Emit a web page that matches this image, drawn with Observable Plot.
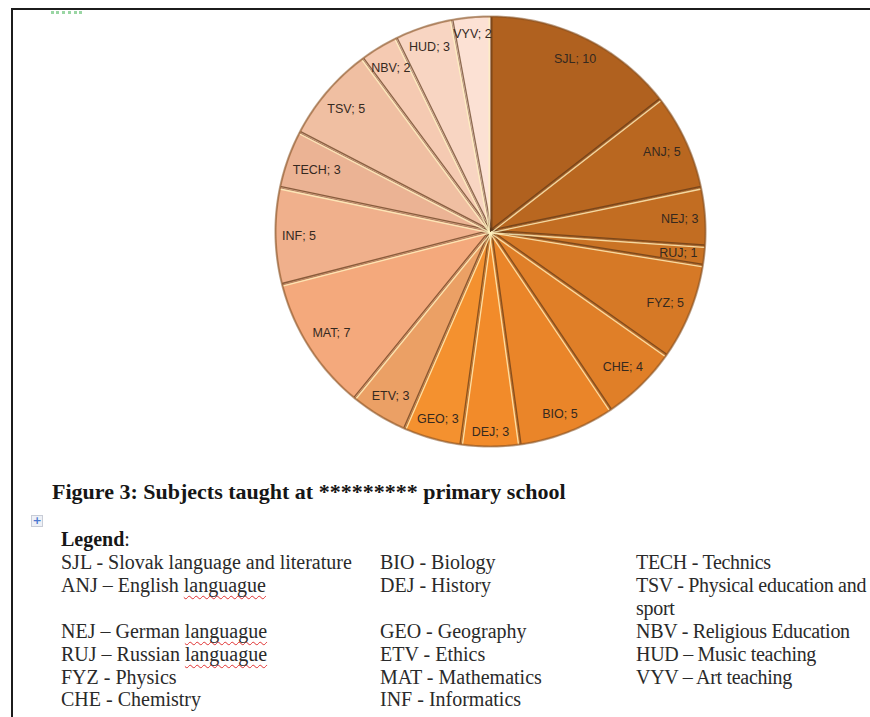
<!DOCTYPE html>
<html><head><meta charset="utf-8">
<script src="https://cdn.jsdelivr.net/npm/d3@7"></script>
<script src="https://cdn.jsdelivr.net/npm/@observablehq/plot@0.6"></script>
<style>
html,body{margin:0;padding:0;background:#fff;}
body{width:870px;height:717px;overflow:hidden;position:relative;font-family:"Liberation Serif","Times New Roman",serif;color:#1a1a1a;}
#frameTop{position:absolute;left:11px;top:8px;width:859px;height:2px;background:#1c1c1c}
#frameLeft{position:absolute;left:11px;top:8px;width:2px;height:709px;background:#1c1c1c}
#greenMark{position:absolute;left:51px;top:11px;width:31px;height:0;border-top:3px dotted #9ad6a4;}
#chart{position:absolute;left:0;top:0}
#title{position:absolute;left:52px;top:479px;font-weight:bold;font-size:22px;line-height:26px;white-space:nowrap;color:#161616}
#icon{position:absolute;left:31px;top:515px;width:10px;height:10px;border:1px solid #c8ccd6;background:#eef1f7;color:#4a78d0;font:bold 11px/10px "DejaVu Sans",sans-serif;text-align:center}
#legendHead{position:absolute;left:61px;top:528px;font-size:20px;line-height:23px;white-space:nowrap;color:#222}
#legendHead b{font-weight:bold;color:#161616}
.col{position:absolute;top:551px;font-size:20px;line-height:22.9px;white-space:pre;color:#2a2a2a}
#col3{letter-spacing:-0.3px}
.spell{text-decoration:underline wavy #e03030;text-decoration-thickness:1px;text-underline-offset:3px;text-decoration-skip-ink:none}
</style>
</head><body>
<div id="frameTop"></div><div id="frameLeft"></div><div id="greenMark"></div>
<div id="chart"></div>
<div id="title"></div>
<div id="icon">+</div>
<div id="legendHead"><b>Legend</b>:</div>
<div class="col" id="col1" style="left:61px"></div>
<div class="col" id="col2" style="left:380px"></div>
<div class="col" id="col3" style="left:636px"></div>
<script>
// ---- data ----
const subjects = ["SJL","ANJ","NEJ","RUJ","FYZ","CHE","BIO","DEJ","GEO","ETV","MAT","INF","TECH","TSV","NBV","HUD","VYV"];
const counts   = [10, 5, 3, 1, 5, 4, 5, 3, 3, 3, 7, 5, 3, 5, 2, 3, 2];
const sliceColors = ["#b0611f","#b96720","#c26d22","#ca7324","#d67926","#e07f28","#ea8529","#f28b2a","#f4912f","#eba065","#f4a97c","#f0b08c","#ebb394","#f0bfa2","#f5cab2","#f8d5c2","#fce1d4"];
const titleText = "Figure 3: Subjects taught at ********* primary school";
const legendCol1 = ["SJL - Slovak language and literature","ANJ – English languague","","NEJ – German languague","RUJ – Russian languague","FYZ - Physics","CHE - Chemistry"];
const legendCol2 = ["BIO - Biology","DEJ - History","","GEO - Geography","ETV - Ethics","MAT - Mathematics","INF - Informatics"];
const legendCol3 = ["TECH - Technics","TSV - Physical education and","sport","NBV - Religious Education","HUD – Music teaching","VYV – Art teaching",""];
const misspelled = "languague";

// ---- text blocks ----
document.getElementById("title").textContent = titleText;
function fillCol(id, lines){
  const el = document.getElementById(id);
  lines.forEach((ln, i) => {
    const parts = ln.split(misspelled);
    parts.forEach((p, j) => {
      el.appendChild(document.createTextNode(p));
      if (j < parts.length - 1) { const s = document.createElement("span"); s.className = "spell"; s.textContent = misspelled; el.appendChild(s); }
    });
    if (i < lines.length - 1) el.appendChild(document.createTextNode("\n"));
  });
}
fillCol("col1", legendCol1); fillCol("col2", legendCol2); fillCol("col3", legendCol3);

// ---- pie geometry (unit radius, y up, clockwise from 12 o'clock) ----
const W = 870, H = 460, cx = 490, cy = 231, R = 215;
const total = d3.sum(counts);
let acc = 0;
const slices = subjects.map((s, i) => {
  const a0 = acc / total * 2 * Math.PI; acc += counts[i];
  const a1 = acc / total * 2 * Math.PI;
  return {s, v: counts[i], a0, a1, color: sliceColors[i]};
});
const polys = [];
for (const sl of slices) {
  polys.push({s: sl.s, c: sl.color, x: 0, y: 0});
  const n = Math.max(2, Math.ceil((sl.a1 - sl.a0) / 0.01));
  for (let k = 0; k <= n; k++) {
    const a = sl.a0 + (sl.a1 - sl.a0) * k / n;
    polys.push({s: sl.s, c: sl.color, x: Math.sin(a), y: Math.cos(a)});
  }
  polys.push({s: sl.s, c: sl.color, x: 0, y: 0});
}
// bevel lines at boundaries: light on the lower side, dark on the upper side
const off = 1.3 / R;
const bevelLight = [], bevelDark = [];
slices.forEach((sl, i) => {
  const a = sl.a0;
  let px = Math.cos(a), py = -Math.sin(a);
  if (py > 0 || (py === 0 && px > 0)) { px = -px; py = -py; }
  bevelLight.push({b: i, x: px * off, y: py * off}, {b: i, x: Math.sin(a) * 0.995 + px * off, y: Math.cos(a) * 0.995 + py * off});
  bevelDark.push({b: i, x: -px * off, y: -py * off}, {b: i, x: Math.sin(a) * 0.995 - px * off, y: Math.cos(a) * 0.995 - py * off});
});
const rim = d3.range(0, 361).map(d => ({x: Math.sin(d * Math.PI / 180), y: Math.cos(d * Math.PI / 180)}));

// labels, "inside end"
const labelSize = 12.5;
const labelFamily = "'Liberation Sans', Arial, sans-serif";
const ctx = document.createElement("canvas").getContext("2d");
ctx.font = `${labelSize}px ${labelFamily}`;
const labels = slices.map(sl => {
  const t = `${sl.s}; ${sl.v}`;
  const m = (sl.a0 + sl.a1) / 2;
  const w = ctx.measureText(t).width * 0.9;
  const dist = (R - 8 - (w / 2 * Math.abs(Math.sin(m)) + 7 * Math.abs(Math.cos(m)))) / R;
  return {t, x: Math.sin(m) * dist, y: Math.cos(m) * dist};
});

const chart = Plot.plot({
  width: W, height: H, margin: 0,
  x: {domain: [-cx / R, (W - cx) / R], axis: null},
  y: {domain: [-(H - cy) / R, cy / R], axis: null},
  color: {type: "identity"},
  style: {background: "transparent", overflow: "visible"},
  marks: [
    Plot.line(polys, {x: "x", y: "y", z: "s", fill: "c", stroke: "#6e4220", strokeOpacity: 0.45, strokeWidth: 0.8, curve: "linear"}),
    Plot.line(bevelDark, {x: "x", y: "y", z: "b", stroke: "#5e3818", strokeOpacity: 0.7, strokeWidth: 1.3}),
    Plot.line(bevelLight, {x: "x", y: "y", z: "b", stroke: "#fff2c0", strokeOpacity: 0.8, strokeWidth: 1.3}),
    Plot.line(rim, {x: "x", y: "y", stroke: "#8a4f1e", strokeOpacity: 0.5, strokeWidth: 2.2}),
    Plot.text(labels, {x: "x", y: "y", text: "t", fill: "#35291f", fontSize: labelSize, fontFamily: labelFamily, textAnchor: "middle", style: "letter-spacing:-0.4px"})
  ]
});
document.getElementById("chart").appendChild(chart);
</script>
</body></html>
